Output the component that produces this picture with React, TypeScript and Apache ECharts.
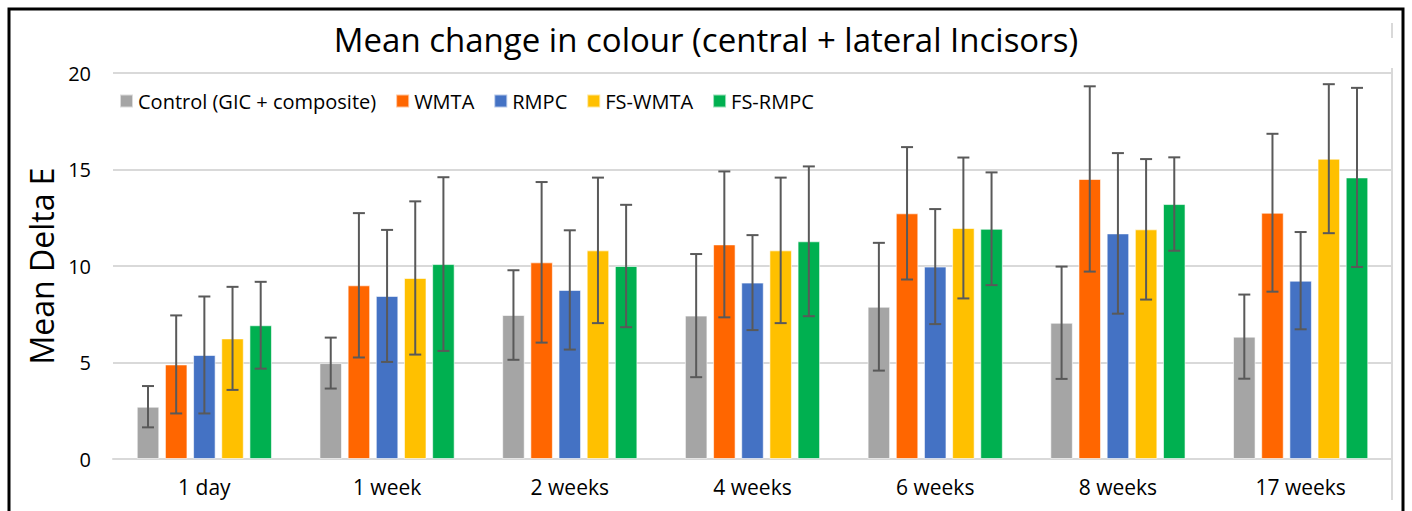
import React, { useEffect, useRef } from "react";
import * as echarts from "echarts";

const categories = ["1 day", "1 week", "2 weeks", "4 weeks", "6 weeks", "8 weeks", "17 weeks"];
const seriesNames = ["Control (GIC + composite)", "WMTA", "RMPC", "FS-WMTA", "FS-RMPC"];
const seriesColors = ["#A5A5A5", "#FF6600", "#4472C4", "#FFC000", "#00B050"];

const controlMean = [2.71, 4.97, 7.46, 7.43, 7.89, 7.06, 6.34];
const controlSd = [1.07, 1.32, 2.32, 3.19, 3.31, 2.91, 2.18];
const wmtaMean = [4.9, 9.0, 10.19, 11.12, 12.73, 14.51, 12.76];
const wmtaSd = [2.54, 3.74, 4.16, 3.78, 3.43, 4.8, 4.09];
const rmpcMean = [5.39, 8.45, 8.76, 9.14, 9.97, 11.69, 9.24];
const rmpcSd = [3.03, 3.42, 3.09, 2.46, 2.98, 4.16, 2.52];
const fsWmtaMean = [6.25, 9.38, 10.81, 10.81, 11.97, 11.9, 15.56];
const fsWmtaSd = [2.67, 3.97, 3.77, 3.77, 3.65, 3.64, 3.86];
const fsRmpcMean = [6.93, 10.1, 10.0, 11.28, 11.93, 13.21, 14.59];
const fsRmpcSd = [2.25, 4.5, 3.17, 3.88, 2.92, 2.42, 4.64];

const yTicks = [0, 5, 10, 15, 20];

const means = [controlMean, wmtaMean, rmpcMean, fsWmtaMean, fsRmpcMean];
const sds = [controlSd, wmtaSd, rmpcSd, fsWmtaSd, fsRmpcSd];

const FONT = "Open Sans";
const CAT_GAP = 0.26;
const BAR_GAP = 0.25;

export default function App() {
  const ref = useRef<HTMLDivElement>(null);
  useEffect(() => {
    if (!ref.current) return;
    const chart = echarts.init(ref.current, null, { renderer: "svg" });
    const n = seriesNames.length;
    const barSeries = seriesNames.map((name, i) => ({
      type: "bar",
      name,
      data: means[i],
      barGap: BAR_GAP * 100 + "%",
      barCategoryGap: CAT_GAP * 100 + "%",
      itemStyle: { color: seriesColors[i], borderColor: "rgba(255,255,255,0.6)", borderWidth: 1 },
      z: 2,
    }));
    const errSeries = seriesNames.map((name, i) => ({
      type: "custom",
      name: name + " err",
      data: means[i].map((m, k) => [k, m - sds[i][k], m + sds[i][k]]),
      encode: { x: 0, y: [1, 2] },
      z: 5,
      silent: true,
      renderItem: (params: any, api: any) => {
        const cat = api.value(0);
        const lo = api.value(1);
        const hi = api.value(2);
        const catW = api.size([1, 0])[0];
        const usable = catW * (1 - CAT_GAP);
        const bw = usable / (n + (n - 1) * BAR_GAP);
        const pitch = bw * (1 + BAR_GAP);
        const off = (i - (n - 1) / 2) * pitch;
        const pHi = api.coord([cat, hi]);
        const pLo = api.coord([cat, lo]);
        const x = pHi[0] + off;
        const cap = 6;
        const style = { stroke: "#595959", lineWidth: 2 };
        return {
          type: "group",
          children: [
            { type: "line", shape: { x1: x, y1: pHi[1], x2: x, y2: pLo[1] }, style },
            { type: "line", shape: { x1: x - cap, y1: pHi[1], x2: x + cap, y2: pHi[1] }, style },
            { type: "line", shape: { x1: x - cap, y1: pLo[1], x2: x + cap, y2: pLo[1] }, style },
          ],
        };
      },
    }));
    chart.setOption({
      animation: false,
      backgroundColor: "#ffffff",
      title: {
        text: "Mean change in colour (central + lateral Incisors)",
        left: "center",
        top: 18,
        textStyle: { fontFamily: FONT, fontSize: 33, fontWeight: "normal", color: "#000" },
      },
      legend: {
        data: seriesNames,
        left: 114,
        top: 86,
        icon: "rect",
        itemWidth: 13,
        itemHeight: 13,
        itemGap: 19,
        textStyle: { fontFamily: FONT, fontSize: 20, color: "#000" },
      },
      grid: { left: 113, right: 20, top: 73, bottom: 52 },
      xAxis: {
        type: "category",
        data: categories,
        axisLine: { lineStyle: { color: "#d9d9d9", width: 2 } },
        axisTick: { show: false },
        axisLabel: { fontFamily: FONT, fontSize: 21, color: "#000", margin: 17 },
      },
      yAxis: {
        type: "value",
        min: yTicks[0],
        max: yTicks[yTicks.length - 1],
        interval: 5,
        name: "Mean Delta E",
        nameLocation: "middle",
        nameGap: 56,
        nameTextStyle: { fontFamily: FONT, fontSize: 32, color: "#000" },
        axisLine: { show: false },
        axisTick: { show: false },
        axisLabel: { fontFamily: FONT, fontSize: 20, color: "#000", margin: 22 },
        splitLine: { lineStyle: { color: "#d9d9d9", width: 2 } },
      },
      graphic: [
        { type: "line", shape: { x1: 1392, y1: 23, x2: 1392, y2: 38 }, style: { stroke: "#d9d9d9", lineWidth: 2 } },
        { type: "line", shape: { x1: 1392, y1: 68, x2: 1392, y2: 500 }, style: { stroke: "#d9d9d9", lineWidth: 2 } },
        { type: "rect", shape: { x: 9, y: 9, width: 1394, height: 520 }, style: { fill: "none", stroke: "#000", lineWidth: 3 } },
      ],
      series: [...barSeries, ...errSeries],
    });
    return () => chart.dispose();
  }, []);
  return <div ref={ref} style={{ width: 1412, height: 511, position: "absolute", left: 0, top: 0 }} />;
}
